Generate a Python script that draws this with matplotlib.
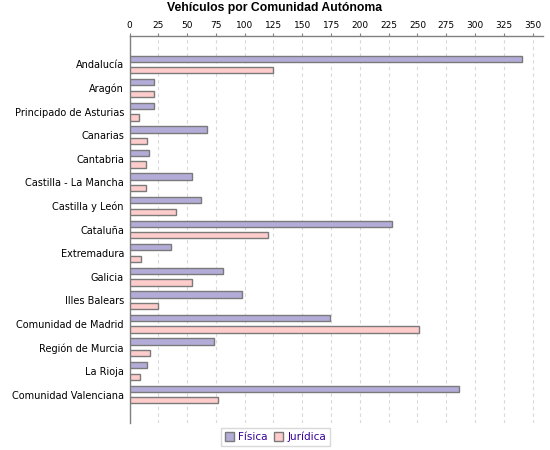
import matplotlib
matplotlib.use("Agg")
import matplotlib.pyplot as plt
import numpy as np

categories = ["Andalucía", "Aragón", "Principado de Asturias", "Canarias", "Cantabria",
              "Castilla - La Mancha", "Castilla y León", "Cataluña", "Extremadura", "Galicia",
              "Illes Balears", "Comunidad de Madrid", "Región de Murcia", "La Rioja",
              "Comunidad Valenciana"]
fisica = [341, 21, 21, 67, 17, 54, 62, 228, 36, 81, 98, 174, 73, 15, 286]
juridica = [125, 21, 8, 15, 14, 14, 40, 120, 10, 54, 25, 251, 18, 9, 77]
xticks = list(range(0, 351, 25))

fig = plt.figure(figsize=(5.5, 4.5), dpi=100)
ax = fig.add_axes([129.5/550, 1-423/450, (542.7-129.5)/550, (423-36)/450])

y = np.arange(len(categories))
off = 0.246
h = 0.27
ax.barh(y - off, fisica, height=h, color="#b4acd8", edgecolor="#7a7a7a", linewidth=1, label="Física", zorder=3)
ax.barh(y + off, juridica, height=h, color="#ffcccc", edgecolor="#7a7a7a", linewidth=1, label="Jurídica", zorder=3)

ax.set_xlim(0, 358.7)
ax.set_ylim(len(categories) - 1 + 1.209, -1.209)
ax.xaxis.tick_top()
ax.set_xticks(xticks)
ax.set_xticklabels([str(t) for t in xticks], fontsize=6.5, family="DejaVu Sans")
ax.tick_params(axis="x", length=2, width=0.8, color="#808080", pad=2)
ax.set_yticks(y)
ax.set_yticklabels(categories, fontsize=7, family="DejaVu Sans")
ax.tick_params(axis="y", length=0, pad=4)

for s in ["right", "bottom"]:
    ax.spines[s].set_visible(False)
for s in ["top", "left"]:
    ax.spines[s].set_color("#808080")
    ax.spines[s].set_linewidth(1)

ax.grid(axis="x", color="#d9d9d9", linestyle=(0, (3, 3)), linewidth=0.8, zorder=0)
ax.set_axisbelow(True)

fig.text(0.5, 1 - 8.5/450, "Vehículos por Comunidad Autónoma", ha="center", va="center",
         fontsize=8.8, fontweight="bold", family="Liberation Sans")

leg = fig.legend(loc="center", bbox_to_anchor=(275.5/550, 1 - 437/450), ncol=2,
                 fontsize=7.5, frameon=True, fancybox=False, handlelength=0.9, handleheight=0.9,
                 handletextpad=0.4, columnspacing=0.6, borderpad=0.4)
leg.get_frame().set_edgecolor("#d0d0d0")
leg.get_frame().set_linewidth(1)
for t in leg.get_texts():
    t.set_color("#330099")

fig.savefig("out.png", dpi=100)
